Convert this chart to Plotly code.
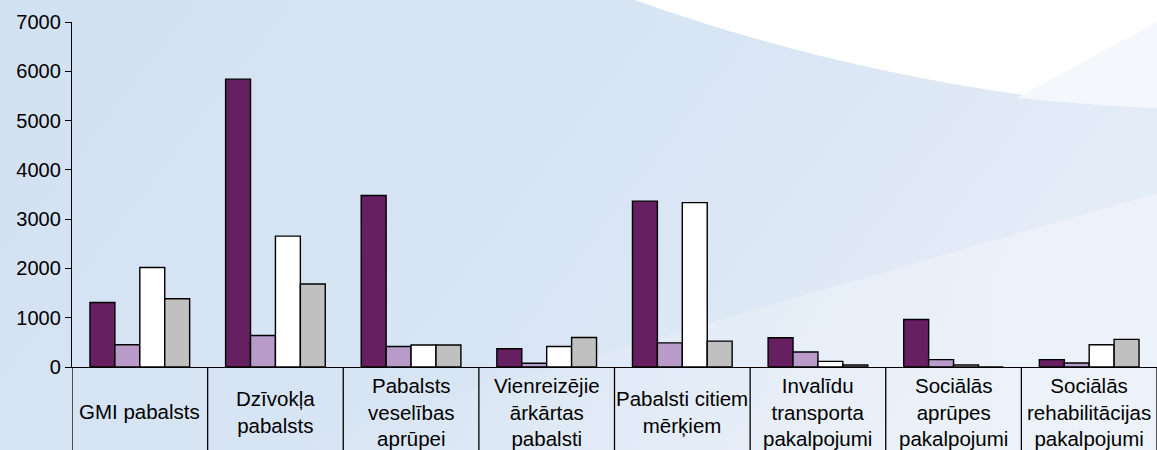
import base64
import plotly.graph_objects as go

# ---------------- data ----------------
categories = [
    "GMI pabalsts",
    "Dzīvokļa pabalsts",
    "Pabalsts veselības aprūpei",
    "Vienreizējie ārkārtas pabalsti",
    "Pabalsti citiem mērķiem",
    "Invalīdu transporta pakalpojumi",
    "Sociālās aprūpes pakalpojumi",
    "Sociālās rehabilitācijas pakalpojumi",
]
label_lines = [
    ["GMI pabalsts"],
    ["Dzīvokļa", "pabalsts"],
    ["Pabalsts", "veselības", "aprūpei"],
    ["Vienreizējie", "ārkārtas", "pabalsti"],
    ["Pabalsti citiem", "mērķiem"],
    ["Invalīdu", "transporta", "pakalpojumi"],
    ["Sociālās", "aprūpes", "pakalpojumi"],
    ["Sociālās", "rehabilitācijas", "pakalpojumi"],
]
series_names = ["Sērija 1", "Sērija 2", "Sērija 3", "Sērija 4"]
series_1 = [1310, 5840, 3480, 370, 3365, 595, 965, 150]
series_2 = [450, 640, 415, 75, 490, 305, 150, 80]
series_3 = [2020, 2655, 445, 415, 3335, 115, 40, 450]
series_4 = [1385, 1685, 445, 600, 525, 40, 0, 560]
y_ticks = [0, 1000, 2000, 3000, 4000, 5000, 6000, 7000]

# ---------------- styling ----------------
colors = ["#661f61", "#b99bca", "#ffffff", "#c0c0c0"]
W, H = 1157, 450
ML, MR, MT, MB = 72, 0, 22, 83
PW, PH = W - ML - MR, H - MT - MB
FONT = "Liberation Sans, Arial, sans-serif"

# background (PowerPoint-like gradient with swoosh)
svg = f"""<svg xmlns='http://www.w3.org/2000/svg' width='{W}' height='{H}' viewBox='0 0 {W} {H}'>
<defs>
<linearGradient id='g' x1='0' y1='0' x2='1' y2='0.3'>
<stop offset='0' stop-color='#d2e1f2'/><stop offset='0.6' stop-color='#d8e5f4'/><stop offset='1' stop-color='#e4ecf7'/>
</linearGradient>
<linearGradient id='b' x1='0' y1='0' x2='1' y2='0'>
<stop offset='0' stop-color='#ffffff' stop-opacity='0'/><stop offset='0.6' stop-color='#ffffff' stop-opacity='0.22'/><stop offset='1' stop-color='#ffffff' stop-opacity='0.35'/>
</linearGradient>
</defs>
<rect x='0' y='0' width='{W}' height='{H}' fill='url(#g)'/>
<path d='M271,450 L1157,193 L1157,450 Z' fill='url(#b)'/>
<path d='M635,0 C800,60 1000,100 1157,108 L1157,0 Z' fill='#ffffff'/>
<path d='M1017,98 L1157,22 L1157,108 C1110,106 1060,102 1017,98 Z' fill='#f4f7fb'/>
</svg>"""
svg_uri = "data:image/svg+xml;base64," + base64.b64encode(svg.encode("utf-8")).decode("ascii")

fig = go.Figure()
for name, vals, col in zip(series_names, [series_1, series_2, series_3, series_4], colors):
    fig.add_trace(go.Bar(
        x=categories, y=vals, name=name,
        marker=dict(color=col, line=dict(color="#000000", width=1.4)),
    ))

fig.update_layout(
    width=W, height=H,
    margin=dict(l=ML, r=MR, t=MT, b=MB),
    barmode="group", bargap=0.265, bargroupgap=0,
    showlegend=False,
    paper_bgcolor="#d6e4f3", plot_bgcolor="rgba(0,0,0,0)",
    font=dict(family=FONT, size=20, color="#000000"),
    images=[dict(
        source=svg_uri, xref="paper", yref="paper",
        x=-ML / PW, y=1 + MT / PH, sizex=W / PW, sizey=H / PH,
        xanchor="left", yanchor="top", sizing="stretch", layer="below",
    )],
)
fig.update_yaxes(
    range=[0, 7000], tickvals=y_ticks, showgrid=False, zeroline=False,
    showline=True, linecolor="#000000", linewidth=1.3,
    ticks="outside", ticklen=6, tickcolor="#000000", tickwidth=1.3,
    tickfont=dict(family=FONT, size=20, color="#000000"),
)
fig.update_xaxes(
    range=[-0.5, len(categories) - 0.5], showticklabels=False, showgrid=False,
    showline=True, linecolor="#000000", linewidth=1.3, ticks="",
)

# table-like category cells below the axis
y_bottom = -(H - MT - PH) / PH
for i in range(len(categories) + 1):
    fig.add_shape(type="line", xref="x", yref="paper",
                  x0=i - 0.5, x1=i - 0.5, y0=0, y1=y_bottom,
                  line=dict(color="#000000", width=1.3))

label_center_y = -(412 - (MT + PH)) / PH
for cat, lines in zip(categories, label_lines):
    fig.add_annotation(
        x=cat, xref="x", y=label_center_y, yref="paper",
        text="<br>".join(lines), showarrow=False,
        xanchor="center", yanchor="middle", align="center",
        font=dict(family=FONT, size=20.5, color="#000000"),
    )

fig.write_html(
    "out.html",
    config={"displayModeBar": False},
    post_script="document.body.style.margin='0';document.body.style.overflow='hidden';",
)
